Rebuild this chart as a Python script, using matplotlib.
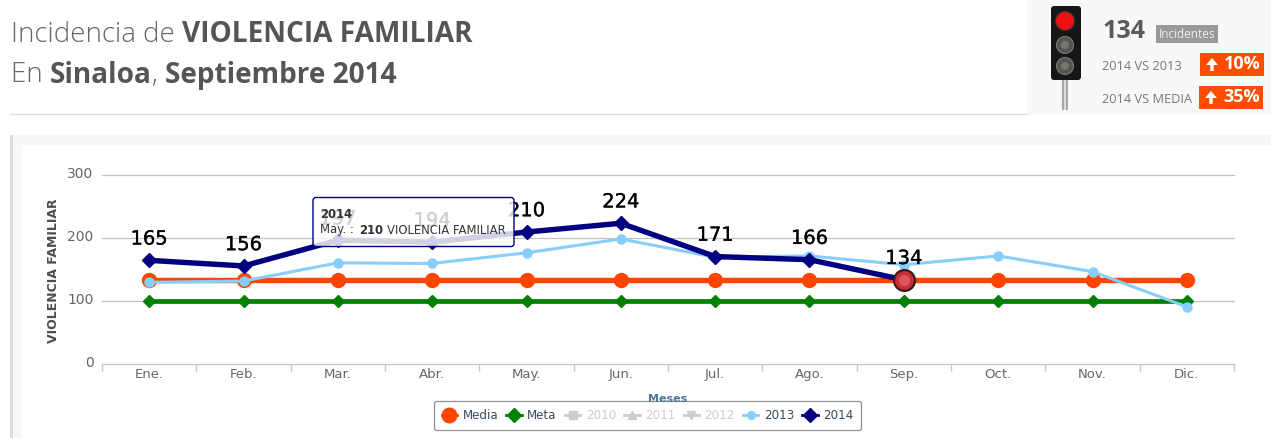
import matplotlib
matplotlib.use("Agg")
import matplotlib.pyplot as plt
from matplotlib.lines import Line2D
from matplotlib.patches import Rectangle, FancyBboxPatch, Circle, FancyArrow
from matplotlib.transforms import ScaledTranslation
import matplotlib.patheffects as pe

W, H = 1271, 438
meses = ["Ene.", "Feb.", "Mar.", "Abr.", "May.", "Jun.", "Jul.", "Ago.", "Sep.", "Oct.", "Nov.", "Dic."]
media = [133] * 12
meta = [100] * 12
v2013 = [130, 132, 161, 160, 177, 199, 170, 172, 158, 172, 147, 91]
v2014 = [165, 156, 197, 194, 210, 224, 171, 166, 134]
yticks = [0, 100, 200, 300]
C_MEDIA, C_META, C_2013, C_2014 = "#ff4500", "#008000", "#87cefa", "#000080"
TITLE_FONT = "Open Sans"

fig = plt.figure(figsize=(W / 100, H / 100), dpi=100, facecolor="white")

def px_axes(z):
    a = fig.add_axes([0, 0, 1, 1], zorder=z)
    a.set_xlim(0, W)
    a.set_ylim(H, 0)
    a.axis("off")
    a.patch.set_alpha(0)
    return a

bg = px_axes(0)
top = px_axes(5)

# page furniture
bg.add_patch(Rectangle((10, 135), 1261, 303, fc="#f8f8f8", ec="none"))
bg.add_patch(Rectangle((10, 135), 2.5, 303, fc="#dcdcdc", ec="none"))
bg.add_patch(FancyBboxPatch((22, 145), 1262, 300, boxstyle="round,pad=0,rounding_size=3", fc="white", ec="none"))
bg.plot([10, 1027], [113.5, 113.5], color="#dddddd", lw=1)
bg.add_patch(Rectangle((1027, 0), 244, 115, fc="#f8f8f8", ec="none"))

# title
def run(y, parts, x=11):
    r = fig.canvas.get_renderer()
    for s, w in parts:
        t = bg.text(x, y, s, fontsize=19.9 if w == 300 else 20.2, family=TITLE_FONT, fontweight=w,
                    color="#666666" if w == 300 else "#555555", va="center", ha="left")
        x += t.get_window_extent(r).width

run(34.5, [("Incidencia de ", 300), ("VIOLENCIA FAMILIAR", 700)])
run(75.5, [("En ", 300), ("Sinaloa", 700), (", ", 300), ("Septiembre 2014", 700)])

# traffic light
bg.add_patch(Rectangle((1062, 80), 6, 30, fc="#a8a8a8", ec="none"))
bg.add_patch(Rectangle((1064, 80), 2, 30, fc="#dedede", ec="none"))
bg.add_patch(FancyBboxPatch((1051, 6), 30, 74, boxstyle="round,pad=0,rounding_size=3", fc="#161616", ec="none"))
bg.add_patch(Circle((1065, 21), 9.5, fc="#ee1111", ec="#333333", lw=0.8))
for cy in (45, 66):
    bg.add_patch(Circle((1065, cy), 8.5, fc="#555555", ec="#777777", lw=0.8))
    bg.add_patch(Circle((1065, cy), 4, fc="#7a7568", ec="none"))

# indicator box
bg.text(1102, 31, "134", fontsize=18, family=TITLE_FONT, fontweight="bold", color="#5a5a5a", va="center")
bg.add_patch(Rectangle((1156, 25), 62, 18, fc="#999999", ec="none"))
bg.text(1187, 34.5, "Incidentes", fontsize=8.5, family=TITLE_FONT, color="#f0f0f0", va="center", ha="center")
bg.text(1102, 66.5, "2014 VS 2013", fontsize=9.2, family=TITLE_FONT, color="#777777", va="center")
bg.text(1102, 99.5, "2014 VS MEDIA", fontsize=9.2, family=TITLE_FONT, color="#777777", va="center")
for x0, y0, s in ((1200, 53, "10%"), (1199, 86, "35%")):
    bg.add_patch(Rectangle((x0, y0), 64, 23, fc="#ff4d00", ec="none"))
    bg.add_patch(FancyArrow(x0 + 12, y0 + 18, 0, -13, width=3.4, head_width=12, head_length=7,
                            length_includes_head=True, fc="white", ec="none"))
    bg.text(x0 + 24, y0 + 11, s, fontsize=13, family=TITLE_FONT, fontweight="bold", color="white", va="center")

# chart
ax = fig.add_axes([102 / W, 1 - 364 / H, (1234 - 102) / W, (364 - 175.5) / H], zorder=2)
ax.patch.set_alpha(0)
x = list(range(12))
ax.set_xlim(-0.5, 11.5)
ax.set_ylim(0, 300)
ax.set_yticks(yticks)
ax.set_xticks(x)
ax.set_xticklabels(meses)
ax.grid(axis="y", color="#c0c0c0", lw=0.9, clip_on=False)
for g in ax.get_ygridlines():
    g.set_clip_on(False)
ax.set_axisbelow(True)
for s in ("top", "right", "left"):
    ax.spines[s].set_visible(False)
ax.spines["bottom"].set_color("#c8c8c8")
ax.tick_params(axis="y", length=0, pad=6, labelsize=10, labelcolor="#666666")
ax.tick_params(axis="x", length=0, pad=3, labelsize=9.5, labelcolor="#666666")
shift = ScaledTranslation(0, 2.5 / 100, fig.dpi_scale_trans)
for lab in ax.get_yticklabels():
    lab.set_transform(lab.get_transform() + shift)
ax.set_xticks([i - 0.5 for i in range(13)], minor=True)
ax.tick_params(axis="x", which="minor", length=5, color="#c8c8c8", width=1)
ax.set_ylabel("VIOLENCIA FAMILIAR", fontsize=9, fontweight="bold", color="#4d4d4d")
ax.yaxis.set_label_coords(-0.037, 0.496)

ax.plot(x, media, color=C_MEDIA, lw=3.9, marker="o", ms=10, zorder=3)
ax.plot(x, meta, color=C_META, lw=3.4, marker="D", ms=6, zorder=3)
ax.plot(x, v2013, color=C_2013, lw=2.2, marker="o", ms=6.5, zorder=4)
xs = x[:len(v2014)]
ax.plot(xs, v2014, color=C_2014, lw=3.9, marker="D", ms=7.5, zorder=5)
for i, v in zip(xs, v2014):
    ann = ax.annotate(str(v), (i, v), xytext=(0, 8.5), textcoords="offset points", ha="center", va="bottom",
                      fontsize=14, color="black", zorder=6)
    ann.set_path_effects([pe.withStroke(linewidth=0.2, foreground="black")])
ax.plot(xs[-1], v2014[-1], marker="o", ms=15, mfc="#c92f37", mec="#3a1a1e", mew=1.6, zorder=7)
ax.plot(xs[-1], v2014[-1], marker="o", ms=8, mfc="#d9585f", mec="none", zorder=8)

# tooltip
top.add_patch(FancyBboxPatch((313, 197.5), 201, 49, boxstyle="round,pad=0,rounding_size=3",
                             fc=(1, 1, 1, 0.82), ec=C_2014, lw=1))
top.text(320, 214, "2014", fontsize=8.4, fontweight="bold", color="#333333", va="center")
top.text(320, 230, "May. : ", fontsize=8.4, color="#333333", va="center")
top.text(359, 230, "210", fontsize=8.4, fontweight="bold", color="#333333", va="center")
top.text(387, 230, "VIOLENCIA FAMILIAR", fontsize=8.4, color="#333333", va="center")

# legend
H_OFF = "#cccccc"
handles = [
    Line2D([], [], color=C_MEDIA, lw=2, marker="o", ms=10.5),
    Line2D([], [], color=C_META, lw=2, marker="D", ms=7.5),
    Line2D([], [], color=H_OFF, lw=2, marker="s", ms=5.5),
    Line2D([], [], color=H_OFF, lw=2, marker="^", ms=6),
    Line2D([], [], color=H_OFF, lw=2, marker="v", ms=6),
    Line2D([], [], color=C_2013, lw=2, marker="o", ms=5.5),
    Line2D([], [], color=C_2014, lw=2, marker="D", ms=7.5),
]
labels = ["Media", "Meta", "2010", "2011", "2012", "2013", "2014"]
leg = top.legend(handles, labels, ncol=7, loc="center", bbox_to_anchor=(647.5 / W, 1 - 415.5 / H),
                 bbox_transform=fig.transFigure, fontsize=8.6, frameon=True, fancybox=True,
                 edgecolor="#909090", facecolor="white", framealpha=1, handlelength=1.3,
                 handletextpad=0.45, columnspacing=0.68, borderpad=0.65, borderaxespad=0)
leg.get_frame().set_linewidth(0.9)
for t, lab in zip(leg.get_texts(), labels):
    t.set_color(H_OFF if lab in ("2010", "2011", "2012") else "#3a4a5c")
top.text(668, 398.5, "Meses", fontsize=8, fontweight="bold", color="#4d759e", ha="center", va="center", zorder=10)

fig.savefig("out.png", dpi=100, facecolor="white")
